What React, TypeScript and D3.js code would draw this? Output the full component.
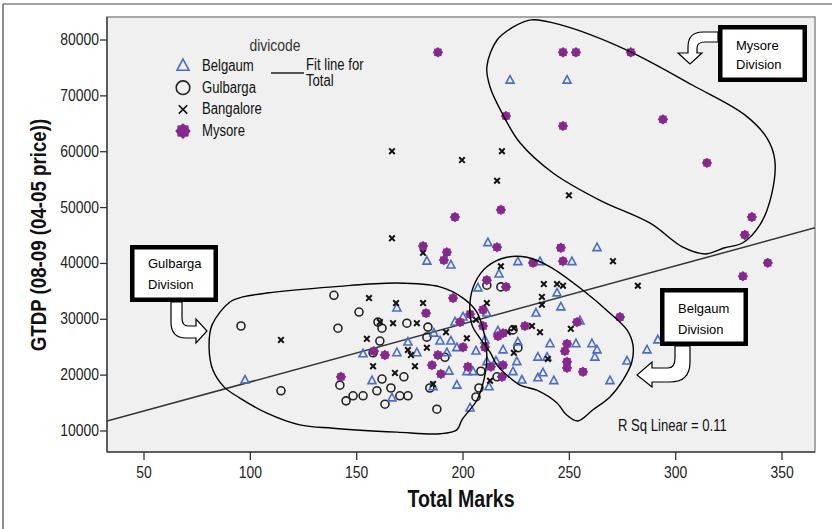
import * as d3 from "d3";

// ---- data (Total Marks, GTDP) ----
const belgaum: [number, number][] = [
  [222.1, 72800], [248.9, 72800], [211.7, 43700], [263.0, 42800], [183.0, 40400], [194.3, 39700],
  [225.8, 40300], [236.2, 40300], [251.2, 40300], [216.9, 38100], [207.0, 35600], [244.2, 34700],
  [168.9, 32000], [246.0, 32200], [211.2, 31100], [234.3, 31100], [200.0, 30400], [196.2, 29500],
  [255.0, 29700], [216.4, 27900], [186.3, 27500], [174.1, 25900], [189.2, 26100], [194.3, 26100],
  [210.3, 26300], [225.8, 25900], [286.5, 24500], [291.6, 26300], [197.1, 24900], [206.1, 24300],
  [218.8, 24500], [240.9, 25600], [253.1, 25600], [260.6, 25600], [263.0, 24500], [262.0, 23200],
  [153.0, 23800], [168.9, 24000], [178.3, 24000], [192.4, 24000], [211.2, 22400], [215.5, 22500],
  [225.3, 22400], [235.2, 23200], [239.5, 23200], [277.1, 22500], [193.4, 20700], [201.8, 20600],
  [204.7, 20600], [223.5, 20600], [237.6, 20400], [235.2, 19500], [227.7, 19100], [242.7, 19000],
  [269.1, 19000], [157.2, 19000], [197.1, 18200], [212.2, 17900], [185.9, 17900], [166.6, 15900],
  [203.3, 14100], [97.5, 19100],
];

const gulbarga: [number, number][] = [
  [95.6, 28800], [139.3, 34300], [141.2, 28400], [151.1, 31300], [160.0, 29500], [161.9, 28400],
  [160.9, 26100], [157.7, 24000], [114.4, 17200], [142.1, 18200], [145.0, 15400], [148.3, 16300],
  [153.0, 16300], [161.9, 19300], [159.5, 17200], [166.1, 17700], [163.3, 14800], [172.2, 19700],
  [170.3, 16300], [174.1, 16300], [173.6, 29300], [183.5, 28600], [183.0, 26800], [191.5, 23200],
  [184.4, 17700], [187.7, 13900], [208.4, 20700], [207.5, 17700], [206.1, 16100], [216.0, 19700],
  [211.2, 36100], [217.8, 35800], [223.5, 28100], [225.8, 24900],
];

const bangalore: [number, number][] = [
  [166.6, 60100], [199.5, 58500], [218.3, 60100], [216.0, 54800], [249.8, 52200], [166.6, 44500],
  [181.2, 41900], [217.8, 39500], [270.5, 40400], [114.4, 26300], [155.8, 33800], [168.5, 32900],
  [181.2, 32900], [211.2, 32900], [160.9, 29500], [167.1, 29300], [178.3, 29300], [154.8, 26500],
  [206.1, 29900], [192.0, 27700], [201.8, 26600], [183.0, 24900], [174.1, 24500], [175.5, 23600],
  [221.1, 27700], [223.9, 28400], [223.9, 24000], [157.7, 21600], [177.4, 21600], [168.0, 20400],
  [185.9, 18400], [212.7, 19000], [238.0, 36300], [244.2, 36300], [247.0, 36000], [237.1, 34000],
  [237.1, 32600], [282.2, 36000], [232.4, 28800], [236.2, 27700], [250.7, 28300], [239.9, 22900],
];

const mysore: [number, number][] = [
  [188.2, 77800], [247.0, 77800], [253.1, 77800], [278.9, 77800], [220.2, 66400], [247.0, 64600],
  [294.0, 65800], [314.7, 58000], [335.8, 48300], [332.5, 45100], [217.8, 49600], [216.0, 42900],
  [246.0, 42800], [196.2, 48300], [181.2, 43100], [192.4, 42000], [191.0, 40600], [247.0, 40400],
  [232.9, 40100], [343.3, 40100], [331.6, 37700], [211.2, 37000], [220.2, 35800], [195.3, 33800],
  [182.6, 31100], [209.4, 31700], [203.3, 30900], [198.6, 29500], [209.4, 28800], [229.1, 28800],
  [253.6, 29500], [273.8, 30400], [216.4, 27000], [218.8, 27500], [200.0, 25000], [210.3, 25000],
  [158.1, 24300], [163.3, 23600], [188.2, 23600], [248.9, 25600], [247.9, 24300], [248.9, 22400],
  [248.9, 21300], [256.4, 20600], [185.4, 21800], [202.3, 21500], [213.1, 21500], [218.8, 21800],
  [189.6, 20200], [218.3, 19700], [142.6, 19700],
];

const divisions = ["Belgaum", "Gulbarga", "Bangalore", "Mysore"];
const xTicks = [50, 100, 150, 200, 250, 300, 350];
const yTicks = [10000, 20000, 30000, 40000, 50000, 60000, 70000, 80000];
const fitIntercept = 8400;
const fitSlope = 103.9;
const rSquared = 0.11;

// hand-drawn outlines around each division (data units)
const mysoreOutline: [number, number][] = [
  [232, 83600], [246, 82700], [277, 78200], [308, 71900], [332.5, 66600], [343, 62400], [346.6, 58500],
  [345, 52200], [339.6, 46900], [331.6, 43700], [323, 42800], [313.7, 41700], [303.4, 42900],
  [288, 47200], [264.4, 51300], [242.3, 56200], [226.8, 61600], [218.8, 66600], [212.7, 71600],
  [211.2, 75200], [216, 80000], [223.5, 82300],
];
const gulbargaOutline: [number, number][] = [
  [90.4, 33100], [82, 29000], [80.6, 24900], [82.4, 20900], [87.6, 17900], [95.1, 15900],
  [107.8, 13200], [123.3, 11100], [138.8, 10500], [168.9, 9800], [189.2, 9500], [197.1, 10200],
  [199.5, 12000], [206.5, 15500], [209.8, 19100], [211.2, 22700], [210.3, 26800], [206.5, 31300],
  [200, 33800], [189.2, 35800], [168.9, 36500], [138.8, 35800], [107.8, 34700], [96.5, 34000],
];
const belgaumOutline: [number, number][] = [
  [220.6, 41100], [230, 41100], [240.9, 39400], [256.4, 35200], [269.1, 31100], [277.1, 28100],
  [279.9, 25400], [279.4, 22400], [275.2, 19100], [269.1, 16100], [261.1, 13800], [254, 11800],
  [248.4, 13000], [244.2, 15000], [234.7, 17300], [226.8, 18200], [220.6, 20000], [216, 21800],
  [212.7, 24100], [208, 26600], [204.2, 29000], [203.3, 33100], [205.6, 36500], [211.2, 39400],
];

const W = 832;
const H = 529;
const plot = { left: 107, right: 815, top: 17, bottom: 452 };
const sans = "'Liberation Sans', Arial, sans-serif";
const BLUE = "#4a6bc9";
const PURPLE = "#87298c";

// condensed text (Arial Narrow look) by squeezing Liberation Sans
function NText({ x, y, size, children, anchor, color }: { x: number; y: number; size: number; children: any; anchor?: string; color?: string }) {
  return (
    <text transform={`translate(${x},${y}) scale(0.82,1)`} textAnchor={anchor ?? "start"}
      fontFamily={sans} fontSize={size} fill={color ?? "#111"}>{children}</text>
  );
}

function starPath(r: number) {
  const pts: [number, number][] = [];
  for (let i = 0; i < 16; i++) {
    const a = (Math.PI * i) / 8 - Math.PI / 2;
    const rr = i % 2 ? r * 0.8 : r;
    pts.push([rr * Math.cos(a), rr * Math.sin(a)]);
  }
  return d3.line()(pts) + "Z";
}
const triPath = (s: number) =>
  `M0,${-s * 0.58}L${s / 2},${s * 0.36}L${-s / 2},${s * 0.36}Z`;
const crossPath = (s: number) => `M${-s},${-s}L${s},${s}M${-s},${s}L${s},${-s}`;

function Marker({ kind, x, y, big }: { kind: string; x: number; y: number; big?: boolean }) {
  const k = big ? 1.5 : 1;
  if (kind === "Belgaum")
    return <path d={triPath(8 * k)} transform={`translate(${x},${y})`} fill="none" stroke={BLUE} strokeWidth={1.6} />;
  if (kind === "Gulbarga")
    return <circle cx={x} cy={y} r={4 * k + (big ? 0.8 : 0)} fill="none" stroke="#222" strokeWidth={1.6} />;
  if (kind === "Bangalore")
    return <path d={crossPath(2.8 * k)} transform={`translate(${x},${y})`} stroke="#111" strokeWidth={big ? 1.6 : 2} />;
  return <path d={starPath(5.2 * k)} transform={`translate(${x},${y})`} fill={PURPLE} />;
}

export default function App() {
  const x = d3.scaleLinear().domain([32.6, 365.5]).range([plot.left, plot.right]);
  const y = d3.scaleLinear().domain([6240, 84120]).range([plot.bottom, plot.top]);
  const outline = d3
    .line<[number, number]>()
    .x((d) => x(d[0]))
    .y((d) => y(d[1]))
    .curve(d3.curveCatmullRomClosed.alpha(0.5));
  const fit = d3
    .line<number>()
    .x((d) => x(d))
    .y((d) => y(fitIntercept + fitSlope * d));

  const series: [string, [number, number][]][] = [
    ["Gulbarga", gulbarga],
    ["Belgaum", belgaum],
    ["Bangalore", bangalore],
    ["Mysore", mysore],
  ];

  return (
    <svg width={W} height={H} style={{ position: "absolute", left: 0, top: 0, background: "#fff" }}>
      <defs>
        <clipPath id="plotclip">
          <rect x={plot.left} y={plot.top} width={plot.right - plot.left} height={plot.bottom - plot.top} />
        </clipPath>
      </defs>
      {/* outer frame */}
      <line x1={3} x2={W} y1={4} y2={4} stroke="#444" strokeWidth={1.2} />
      <line x1={3} x2={3} y1={4} y2={H} stroke="#444" strokeWidth={1.2} />

      <rect x={plot.left} y={plot.top} width={plot.right - plot.left} height={plot.bottom - plot.top}
        fill="#f0f0f0" stroke="#8c8c8c" strokeWidth={1.5} />
      <line x1={plot.left} x2={plot.left} y1={plot.top} y2={plot.bottom} stroke="#444" strokeWidth={1.5} />
      <line x1={plot.left} x2={plot.right} y1={plot.bottom} y2={plot.bottom} stroke="#444" strokeWidth={1.5} />

      {yTicks.map((t) => (
        <g key={t}>
          <line x1={plot.left - 7} x2={plot.left} y1={y(t)} y2={y(t)} stroke="#333" strokeWidth={1.3} />
          <NText x={plot.left - 8} y={y(t) + 5} size={17} anchor="end" color="#222">{t}</NText>
        </g>
      ))}
      {xTicks.map((t) => (
        <g key={t}>
          <line x1={x(t)} x2={x(t)} y1={plot.bottom} y2={plot.bottom + 8} stroke="#333" strokeWidth={1.3} />
          <NText x={x(t)} y={plot.bottom + 26} size={17} anchor="middle" color="#222">{t}</NText>
        </g>
      ))}
      <text transform="translate(461,507) scale(0.85,1)" textAnchor="middle" fontFamily={sans} fontWeight="bold" fontSize={23} fill="#111">Total Marks</text>
      <text transform="translate(46,235) rotate(-90) scale(0.85,1)" textAnchor="middle" fontFamily={sans} fontWeight="bold" fontSize={22} fill="#111">
        GTDP (08-09 (04-05 price))
      </text>

      <g clipPath="url(#plotclip)">
        <path d={fit(x.domain()) ?? ""} stroke="#333" strokeWidth={1.5} fill="none" />
        {series.map(([name, pts]) =>
          pts.map((d, i) => <Marker key={name + i} kind={name} x={x(d[0])} y={y(d[1])} />)
        )}
      </g>

      {/* legend */}
      <NText x={275} y={51} size={17} anchor="middle" color="#333">divicode</NText>
      {divisions.map((name, i) => (
        <g key={name}>
          <Marker kind={name} x={183} y={66 + i * 21.7} big />
          <NText x={202} y={71 + i * 21.7} size={16}>{name}</NText>
        </g>
      ))}
      <line x1={271} x2={304} y1={73} y2={73} stroke="#222" strokeWidth={1.6} />
      <NText x={306} y={70} size={16}>Fit line for</NText>
      <NText x={306} y={86} size={16}>Total</NText>
      <NText x={618} y={431} size={16}>R Sq Linear = {rSquared}</NText>

      {/* hand-drawn outlines */}
      {[mysoreOutline, gulbargaOutline, belgaumOutline].map((o, i) => (
        <path key={i} d={outline(o) ?? ""} fill="none" stroke="#000" strokeWidth={1.4} />
      ))}

      {/* callouts */}
      <path d="M171,302 L171,322 Q171,338 186,338 L196,338 L196,343 L207,331 L196,319 L196,326 L188,326 Q182,326 182,318 L182,302 Z"
        fill="#fff" stroke="#000" strokeWidth={1.2} />
      <rect x={132.25} y={247.25} width={83.5} height={52.5} fill="#fff" stroke="#000" strokeWidth={4.5} />
      <text x={148} y={268} fontFamily={sans} fontSize={13} fill="#000">Gulbarga</text>
      <text x={148} y={289} fontFamily={sans} fontSize={13} fill="#000">Division</text>

      <path d="M718,32 L703,32 Q688,32 688,47 L688,53 L678,53 L690,64 L702,53 L697,53 L697,48 Q697,42 705,42 L718,42 Z"
        fill="#fff" stroke="#000" strokeWidth={1.2} />
      <rect x={720.25} y={27.25} width={84.5} height={52.5} fill="#fff" stroke="#000" strokeWidth={4.5} />
      <text x={736} y={50} fontFamily={sans} fontSize={13} fill="#000">Mysore</text>
      <text x={736} y={69} fontFamily={sans} fontSize={13} fill="#000">Division</text>

      <path d="M690,346 L690,362 Q690,382 670,382 L652,382 L652,387 L637,375 L652,362 L652,368 L668,368 Q675,368 675,358 L675,346 Z"
        fill="#fff" stroke="#000" strokeWidth={1.2} />
      <rect x={662.25} y={290.25} width={83.5} height={53.5} fill="#fff" stroke="#000" strokeWidth={4.5} />
      <text x={678} y={313} fontFamily={sans} fontSize={13} fill="#000">Belgaum</text>
      <text x={678} y={334} fontFamily={sans} fontSize={13} fill="#000">Division</text>
    </svg>
  );
}
